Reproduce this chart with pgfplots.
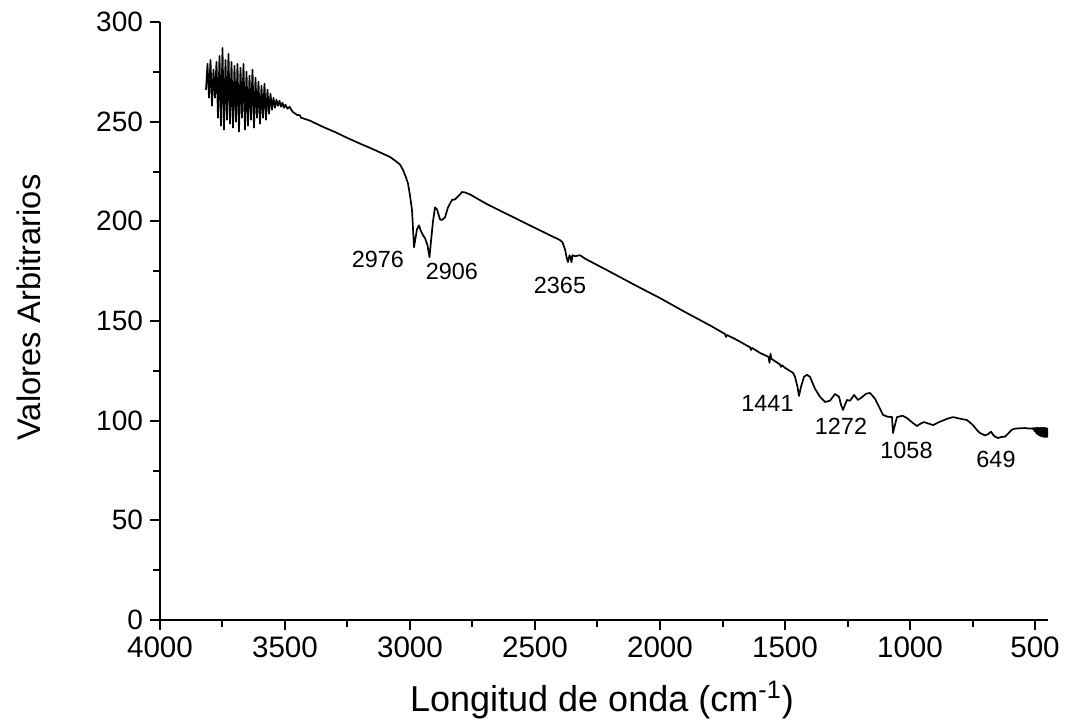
\documentclass[border=0pt]{standalone}
\usepackage{pgfplots}
\pgfplotsset{compat=1.18}
\usepackage{fontspec}
\setmainfont{Liberation Sans}
\begin{document}
\begin{tikzpicture}
\useasboundingbox (-80pt,-51.5pt) rectangle (454pt,310pt);
\begin{axis}[
 at={(0,0)}, anchor=south west,
 scale only axis, width=444pt, height=299pt,
 x dir=reverse, xmin=448, xmax=4000, ymin=0, ymax=300,
 axis x line=bottom, axis y line=left,
 axis line style={-, line width=1pt},
 xtick={500,1000,...,4000}, ytick={0,50,...,300},
 minor tick num=1,
 tick align=outside, major tick length=5pt, minor tick length=3.5pt,
 every tick/.style={black, line width=1pt},
 /pgf/number format/1000 sep={}, /pgf/number format/assume math mode=true,
 xticklabel style={font=\fontsize{14.8}{17}\selectfont},
 yticklabel style={font=\fontsize{14}{17}\selectfont},
 xlabel={Longitud de onda (cm\textsuperscript{-1})},
 ylabel={Valores Arbitrarios},
 xlabel style={at={(axis description cs:0.4977,-0.1522)}, anchor=base, font=\fontsize{18}{21}\selectfont},
 ylabel style={at={(axis description cs:-0.1351,0.5226)}, anchor=base, font=\fontsize{16.3}{19}\selectfont},
]
\addplot[black, line width=0.85pt, line join=round] coordinates {
(3816,266) (3810,279) (3804,262) (3798,281) (3792,258) (3786,276) (3780,262) (3774,280)
(3768,252) (3762,283) (3756,248) (3750,287) (3744,246) (3738,281) (3732,251) (3726,284)
(3720,249) (3714,280) (3708,247) (3702,278) (3696,250) (3690,279) (3684,245) (3678,277)
(3672,252) (3666,279) (3660,246) (3654,275) (3648,248) (3642,273) (3636,251) (3630,276)
(3624,247) (3618,272) (3612,252) (3606,270) (3600,249) (3594,268) (3588,252) (3582,269)
(3576,251) (3570,266) (3564,254) (3558,264) (3552,256) (3546,262) (3540,257) (3534,261)
(3528,258) (3522,260.5) (3516,257.5) (3510,259.5) (3504,257) (3498,258.5) (3490,256.5)
(3482,257.5) (3470,255) (3452,253.4) (3440,253.2) (3436,252) (3400,250.5) (3350,247.5)
(3300,244.8) (3250,241.8) (3200,239) (3150,236.3) (3120,234.6) (3080,232.3) (3060,230.5)
(3040,228.5) (3028,225.8) (3016,222) (3008,219) (3000,213) (2992,205.7) (2986,192)
(2984,187) (2980,190) (2972,196) (2964,198) (2956,195) (2948,193) (2940,191.6) (2930,188)
(2922,182) (2916,190) (2908,200) (2900,207) (2892,206) (2880,201) (2872,200.7) (2860,202)
(2848,207) (2832,210.7) (2820,211) (2812,212) (2800,213.5) (2792,214.7) (2780,214.5)
(2760,213.5) (2692,208.6) (2600,202.9) (2500,196.7) (2420,191.8) (2400,190.6) (2390,189.5)
(2380,186) (2372,181) (2368,179.6) (2362,183) (2358,182) (2354,179.5) (2350,183)
(2340,182.5) (2320,183) (2308,182) (2300,181.3) (2200,174.7) (2100,168) (2000,161.5)
(1900,154.5) (1800,147.8) (1740,143.5) (1736,142) (1732,143) (1700,141) (1640,136.8)
(1636,135.5) (1632,136.5) (1600,134) (1566,132) (1562,129) (1558,133.5) (1554,131)
(1520,128.2) (1516,127) (1512,127.8) (1500,126.5) (1468,124) (1460,122) (1450,117)
(1444,112.4) (1436,117) (1424,122) (1412,123) (1400,122) (1380,116) (1360,112)
(1340,109.4) (1320,110) (1300,113.4) (1284,112) (1276,108) (1268,105.4) (1260,108)
(1252,110.4) (1240,110) (1224,112.9) (1208,110.4) (1190,112) (1176,113.5) (1160,113.9)
(1140,111) (1120,106) (1108,102.9) (1090,102) (1072,101.8) (1068,93.8) (1062,97)
(1052,101.8) (1030,102.5) (1012,101.3) (990,99) (972,97.3) (958,98.5) (944,99.3)
(925,98.5) (908,97.8) (880,99.5) (850,101) (828,101.8) (800,101) (772,100.3) (750,98)
(730,95) (720,93.8) (700,92.6) (688,93.2) (676,94.5) (668,93) (660,92) (648,91.3)
(636,91.8) (620,92) (610,93.2) (600,94.5) (592,95.5) (580,96) (560,96.2) (540,96.3)
(520,96) (510,96.2) (506,95.5) (503,96.3) (500,94.5) (497,96.4) (494,93.5) (491,96.4)
(488,93) (485,96.4) (482,92.5) (479,96.4) (476,92.2) (473,96.4) (470,92) (467,96.4)
(464,91.8) (461,96.4) (458,91.8) (455,96.3) (452,91.8) (450,96) (449,92)
};
\begin{scope}[font=\fontsize{11.7}{14}\selectfont]
\node at (axis cs:3128,180.9) {2976};
\node at (axis cs:2832,174.9) {2906};
\node at (axis cs:2400,168) {2365};
\node at (axis cs:1570,108.6) {1441};
\node at (axis cs:1276,97.3) {1272};
\node at (axis cs:1014,85.3) {1058};
\node at (axis cs:656,80.3) {649};
\end{scope}
\end{axis}
\end{tikzpicture}
\end{document}
